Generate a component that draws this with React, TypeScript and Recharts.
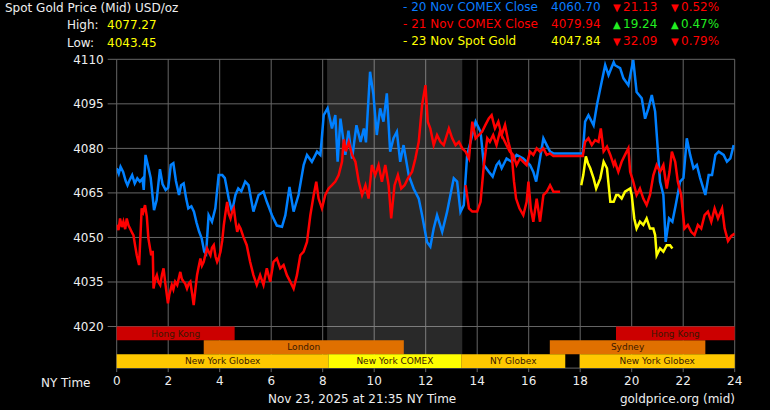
import React from "react";
import { LineChart, Line, XAxis, YAxis, CartesianGrid, ReferenceArea } from "recharts";

// ── data (hour of NY day, price USD/oz) ──────────────────────────────────
const hourTicks = [0, 2, 4, 6, 8, 10, 12, 14, 16, 18, 20, 22, 24];
const priceTicks = [4020, 4035, 4050, 4065, 4080, 4095, 4110];

// 20 Nov COMEX close (blue)
const nov20: number[][] = [
  [0, 4073.3], [0.08, 4071.5], [0.15, 4073.8], [0.25, 4072.1], [0.35, 4069.0], [0.42, 4067.6], [0.5, 4069.3],
  [0.6, 4071.0], [0.7, 4068.2], [0.8, 4069.9], [0.9, 4068.8], [1.0, 4069.8], [1.05, 4066.0], [1.12, 4077.8],
  [1.22, 4074.0], [1.32, 4070.0], [1.45, 4059.2], [1.55, 4062.5], [1.68, 4073.0], [1.78, 4068.0], [1.9, 4066.0],
  [2.0, 4066.8], [2.1, 4074.4], [2.2, 4075.0], [2.3, 4069.0], [2.42, 4064.3], [2.5, 4067.6], [2.6, 4068.2],
  [2.7, 4063.0], [2.78, 4059.8], [2.9, 4060.5], [3.0, 4058.7], [3.1, 4055.0], [3.2, 4052.0], [3.3, 4049.7],
  [3.4, 4045.2], [3.47, 4044.5], [3.57, 4057.5], [3.7, 4055.3], [3.83, 4059.8], [3.96, 4071.0], [4.1, 4071.0],
  [4.2, 4070.0], [4.35, 4063.1], [4.48, 4058.7], [4.61, 4064.3], [4.72, 4066.5], [4.84, 4065.5], [4.99, 4068.8],
  [5.12, 4067.6], [5.31, 4058.7], [5.51, 4064.3], [5.7, 4065.4], [5.83, 4062.0], [6.03, 4057.5], [6.22, 4054.0],
  [6.42, 4053.6], [6.55, 4057.5], [6.71, 4067.0], [6.87, 4058.7], [7.06, 4064.3], [7.26, 4074.4], [7.39, 4077.8],
  [7.58, 4075.5], [7.78, 4078.9], [7.91, 4077.8], [8.04, 4091.2], [8.19, 4093.5], [8.36, 4086.7], [8.49, 4091.2],
  [8.58, 4075.5], [8.69, 4090.0], [8.88, 4077.8], [9.0, 4086.0], [9.14, 4076.6], [9.31, 4087.8], [9.47, 4082.2],
  [9.6, 4086.7], [9.68, 4082.0], [9.84, 4105.8], [9.97, 4098.0], [10.1, 4084.5], [10.23, 4093.5], [10.36, 4089.0],
  [10.49, 4098.5], [10.62, 4078.9], [10.75, 4083.4], [10.88, 4085.6], [11.01, 4075.5], [11.14, 4081.1],
  [11.34, 4071.0], [11.53, 4066.5], [11.73, 4063.1], [11.86, 4057.5], [12.05, 4048.5], [12.18, 4046.9],
  [12.31, 4053.0], [12.44, 4057.5], [12.64, 4051.9], [12.83, 4058.6], [12.96, 4064.3], [13.09, 4069.9],
  [13.22, 4068.8], [13.35, 4058.6], [13.48, 4060.9], [13.61, 4077.8], [13.81, 4084.5], [13.94, 4089.0],
  [14.13, 4085.6], [14.26, 4074.4], [14.45, 4072.1], [14.6, 4070.5], [14.75, 4074.4], [14.85, 4075.5],
  [14.95, 4073.3], [15.14, 4076.6], [15.34, 4075.5], [15.53, 4077.8], [15.79, 4076.6], [16.05, 4074.4],
  [16.18, 4072.1], [16.29, 4068.8], [16.44, 4076.6], [16.57, 4083.4], [16.7, 4081.1], [16.83, 4078.9],
  [16.96, 4078.3], [18.1, 4078.3], [18.19, 4089.0], [18.32, 4091.2], [18.52, 4087.8], [18.65, 4094.6],
  [18.78, 4100.2], [18.97, 4108.1], [19.1, 4104.7], [19.3, 4109.0], [19.35, 4108.0], [19.55, 4107.0],
  [19.68, 4103.6], [19.87, 4101.3], [20.06, 4109.8], [20.19, 4099.0], [20.39, 4096.9], [20.52, 4090.0],
  [20.65, 4093.5], [20.78, 4098.0], [20.91, 4092.4], [21.01, 4080.0], [21.1, 4068.8], [21.23, 4064.3],
  [21.32, 4048.5], [21.45, 4056.4], [21.58, 4055.3], [21.71, 4060.9], [21.88, 4068.8], [22.01, 4070.0],
  [22.14, 4083.4], [22.27, 4077.8], [22.4, 4073.3], [22.53, 4074.4], [22.66, 4070.0], [22.86, 4064.3],
  [22.99, 4071.0], [23.12, 4071.0], [23.25, 4077.8], [23.38, 4078.9], [23.57, 4077.8], [23.7, 4075.5],
  [23.83, 4076.6], [23.96, 4081.1],
];

// 21 Nov COMEX close (red), first trace 0h -> 17.2h
const nov21a: number[][] = [
  [0, 4054.2], [0.07, 4052.5], [0.13, 4056.4], [0.2, 4053.5], [0.26, 4055.3], [0.33, 4052.8], [0.39, 4056.4],
  [0.46, 4054.0], [0.52, 4053.0], [0.6, 4051.5], [0.65, 4050.8], [0.72, 4047.0], [0.78, 4044.0], [0.87, 4040.7],
  [0.93, 4052.0], [0.97, 4059.8], [1.03, 4058.5], [1.1, 4060.9], [1.17, 4057.0], [1.23, 4049.7], [1.34, 4044.0],
  [1.4, 4045.5], [1.43, 4032.8], [1.5, 4036.0], [1.56, 4037.3], [1.62, 4035.0], [1.69, 4034.0], [1.76, 4037.5],
  [1.82, 4039.6], [1.88, 4035.1], [1.99, 4027.8], [2.05, 4031.0], [2.14, 4034.0], [2.2, 4032.5], [2.27, 4035.1],
  [2.35, 4034.0], [2.47, 4038.4], [2.53, 4036.0], [2.6, 4035.1], [2.66, 4034.5], [2.73, 4032.8], [2.8, 4034.5],
  [2.86, 4035.1], [2.93, 4031.0], [2.99, 4027.2], [3.05, 4032.0], [3.12, 4037.3], [3.18, 4040.0], [3.25, 4042.9],
  [3.31, 4040.5], [3.38, 4041.8], [3.44, 4044.0], [3.51, 4046.3], [3.58, 4045.0], [3.64, 4044.0], [3.7, 4046.5],
  [3.77, 4047.4], [3.84, 4043.5], [3.9, 4041.8], [3.96, 4043.0], [4.03, 4045.2], [4.1, 4049.0], [4.16, 4054.2],
  [4.22, 4058.0], [4.29, 4062.0], [4.35, 4058.0], [4.42, 4056.4], [4.48, 4058.5], [4.55, 4059.8], [4.62, 4055.0],
  [4.68, 4051.9], [4.75, 4054.0], [4.81, 4053.0], [4.92, 4050.2], [5.05, 4047.4], [5.18, 4041.8], [5.31, 4037.3],
  [5.44, 4034.0], [5.57, 4037.3], [5.7, 4034.0], [5.83, 4039.6], [5.96, 4035.1], [6.09, 4041.8], [6.22, 4042.9],
  [6.35, 4039.6], [6.48, 4040.7], [6.61, 4037.3], [6.74, 4035.1], [6.87, 4032.8], [7.0, 4037.3], [7.13, 4044.0],
  [7.26, 4045.2], [7.39, 4048.5], [7.52, 4057.5], [7.65, 4064.3], [7.75, 4068.8], [7.84, 4063.1], [7.97, 4059.8],
  [8.1, 4064.3], [8.23, 4066.5], [8.36, 4067.6], [8.49, 4068.8], [8.62, 4071.0], [8.75, 4075.5], [8.82, 4083.0],
  [8.9, 4079.0], [9.01, 4082.2], [9.14, 4077.8], [9.27, 4075.5], [9.4, 4068.8], [9.53, 4064.3], [9.66, 4067.6],
  [9.78, 4063.1], [9.91, 4074.4], [10.04, 4071.0], [10.17, 4074.4], [10.3, 4068.8], [10.43, 4074.4],
  [10.56, 4067.6], [10.66, 4056.4], [10.79, 4067.6], [10.92, 4071.0], [11.05, 4066.5], [11.18, 4067.6],
  [11.31, 4069.9], [11.47, 4072.1], [11.6, 4076.6], [11.73, 4082.2], [11.86, 4094.6], [11.99, 4101.3],
  [12.08, 4089.0], [12.18, 4086.7], [12.31, 4081.1], [12.44, 4084.5], [12.57, 4082.2], [12.7, 4081.1],
  [12.9, 4086.7], [13.03, 4083.4], [13.16, 4081.1], [13.29, 4082.2], [13.42, 4080.0], [13.55, 4078.9],
  [13.68, 4076.6], [13.81, 4089.0], [13.94, 4083.4], [14.06, 4084.5], [14.19, 4085.6], [14.32, 4087.9],
  [14.45, 4090.1], [14.56, 4091.2], [14.69, 4086.7], [14.82, 4089.0], [14.95, 4084.5], [15.08, 4087.9],
  [15.21, 4082.2], [15.34, 4077.8], [15.43, 4068.8], [15.51, 4063.1], [15.64, 4059.8], [15.79, 4057.5],
  [15.92, 4062.0], [15.99, 4068.8], [16.08, 4059.8], [16.18, 4055.3], [16.31, 4063.1], [16.44, 4055.3],
  [16.57, 4064.3], [16.7, 4065.4], [16.83, 4067.6], [16.96, 4065.4], [17.22, 4065.4],
];

// 21 Nov COMEX close (red), second trace 13.5h -> 24h
const nov21b: number[][] = [
  [13.55, 4067.6], [13.68, 4059.8], [13.81, 4058.7], [14.0, 4058.7], [14.13, 4062.0], [14.26, 4074.4],
  [14.39, 4083.4], [14.49, 4082.2], [14.62, 4084.5], [14.75, 4081.1], [14.88, 4085.6], [15.01, 4083.4],
  [15.14, 4081.1], [15.27, 4078.9], [15.4, 4077.8], [15.53, 4074.4], [15.66, 4076.6], [15.79, 4075.5],
  [15.92, 4074.4], [16.05, 4078.9], [16.18, 4077.8], [16.31, 4080.0], [16.44, 4078.9], [16.57, 4080.0],
  [16.7, 4077.8], [16.83, 4078.3], [16.96, 4077.4], [18.1, 4077.4], [18.19, 4082.2], [18.32, 4083.4],
  [18.45, 4081.1], [18.58, 4082.8], [18.71, 4082.2], [18.8, 4086.7], [18.91, 4079.0], [19.04, 4080.6],
  [19.17, 4077.8], [19.3, 4074.4], [19.35, 4075.5], [19.48, 4072.1], [19.61, 4075.5], [19.74, 4077.8],
  [19.87, 4080.0], [19.94, 4072.1], [20.06, 4068.8], [20.19, 4064.3], [20.32, 4066.5], [20.45, 4063.1],
  [20.58, 4060.9], [20.71, 4064.3], [20.84, 4070.9], [20.97, 4074.4], [21.1, 4072.1], [21.23, 4074.4],
  [21.36, 4066.5], [21.47, 4072.1], [21.56, 4078.9], [21.69, 4075.5], [21.79, 4068.8], [21.92, 4064.3],
  [22.05, 4053.0], [22.18, 4054.2], [22.31, 4051.9], [22.44, 4050.8], [22.57, 4054.2], [22.7, 4053.0],
  [22.83, 4057.5], [22.96, 4058.7], [23.09, 4055.3], [23.22, 4059.8], [23.35, 4056.4], [23.51, 4059.8],
  [23.61, 4053.0], [23.74, 4048.8], [23.87, 4050.5], [24, 4051.3],
];

// 23 Nov spot gold (yellow)
const nov23: number[][] = [
  [18.04, 4067.6], [18.12, 4071.0], [18.22, 4077.3], [18.3, 4075.0], [18.39, 4073.3], [18.52, 4069.9],
  [18.62, 4066.5], [18.78, 4069.9], [18.91, 4075.5], [19.04, 4073.3], [19.17, 4062.0], [19.3, 4062.0],
  [19.4, 4064.3], [19.48, 4064.3], [19.61, 4063.1], [19.74, 4065.4], [19.94, 4066.5], [20.0, 4064.3],
  [20.1, 4056.4], [20.19, 4053.0], [20.32, 4055.3], [20.45, 4054.2], [20.58, 4056.4], [20.71, 4053.0],
  [20.84, 4053.0], [20.91, 4050.8], [20.97, 4044.0], [21.1, 4046.3], [21.23, 4045.2], [21.36, 4047.4],
  [21.49, 4047.4], [21.58, 4046.3],
];

// market sessions (hours), row 0 = top
const sessionNames = ["Hong Kong", "London", "Sydney", "New York Globex", "New York COMEX", "NY Globex", "New York Globex", "Hong Kong"];
const sessionRow = [0, 1, 1, 2, 2, 2, 2, 0];
const sessionFrom = [0, 3.38, 16.82, 0, 8.23, 13.38, 17.98, 19.39];
const sessionTo = [4.58, 11.15, 22.86, 8.23, 13.38, 17.42, 24, 24];
const shadeFrom = 8.17;
const shadeTo = 13.42;

const toPts = (rows: number[][]) => rows.map(([h, p]) => ({ h, p }));

const sessionColor: Record<string, string> = {
  "Hong Kong": "#cc0000",
  London: "#e07000",
  Sydney: "#e07000",
  "New York Globex": "#ffc800",
  "NY Globex": "#ffc800",
  "New York COMEX": "#ffff00",
};

const FONT = "DejaVu Sans";
const BOTTOM = 4006;
const ROW = 4.65;

function Header() {
  const t = { fontFamily: FONT, fontSize: 12, dominantBaseline: "central" as const };
  const rows = [
    { y: 7, name: "- 20 Nov COMEX Close", val: "4060.70", c: "#0a7cff", up: false, chg: "21.13", pct: "0.52%" },
    { y: 24, name: "- 21 Nov COMEX Close", val: "4079.94", c: "#ff0000", up: true, chg: "19.24", pct: "0.47%" },
    { y: 41, name: "- 23 Nov Spot Gold", val: "4047.84", c: "#ffff00", up: false, chg: "32.09", pct: "0.79%" },
  ];
  return (
    <svg width={770} height={410} style={{ position: "absolute", left: 0, top: 0, pointerEvents: "none" }}>
      <text x={5} y={8} fill="#eeeeee" {...t}>Spot Gold Price (Mid) USD/oz</text>
      <text x={67} y={25} fill="#eeeeee" {...t}>High:</text>
      <text x={107} y={25} fill="#ffff00" {...t}>4077.27</text>
      <text x={67} y={43} fill="#eeeeee" {...t}>Low:</text>
      <text x={107} y={43} fill="#ffff00" {...t}>4043.45</text>
      {rows.map((r) => {
        const cc = r.up ? "#22ee22" : "#ff0000";
        return (
          <g key={r.name}>
            <text x={403} y={r.y} fill={r.c} {...t}>{r.name}</text>
            <text x={551} y={r.y} fill={r.c} {...t}>{r.val}</text>
            <text x={613} y={r.y} fill={cc} {...t} fontSize={10}>{r.up ? "▲" : "▼"}</text>
            <text x={623} y={r.y} fill={cc} {...t}>{r.chg}</text>
            <text x={671} y={r.y} fill={cc} {...t} fontSize={10}>{r.up ? "▲" : "▼"}</text>
            <text x={681} y={r.y} fill={cc} {...t}>{r.pct}</text>
          </g>
        );
      })}
      <text x={41} y={383} fill="#eeeeee" {...t}>NY Time</text>
      <text x={268} y={399} fill="#eeeeee" {...t}>Nov 23, 2025 at 21:35 NY Time</text>
      <text x={735} y={399} fill="#eeeeee" textAnchor="end" {...t}>goldprice.org (mid)</text>
    </svg>
  );
}

export default function App() {
  const tick = { fill: "#eeeeee", fontSize: 12, fontFamily: FONT };
  return (
    <div style={{ position: "absolute", left: 0, top: 0, width: 770, height: 410, background: "#000", overflow: "hidden" }}>
      <LineChart width={770} height={410} margin={{ top: 59.3, right: 35.3, bottom: 17.9, left: 0 }}>
        <CartesianGrid stroke="#666" strokeWidth={1} />
        <XAxis
          dataKey="h" type="number" domain={[0, 24]} ticks={hourTicks} allowDataOverflow
          height={24} axisLine={false} tickLine={{ stroke: "#666" }} tickSize={4} tickMargin={4} tick={tick}
          interval={0}
        />
        <YAxis
          type="number" domain={[BOTTOM, 4110]} ticks={priceTicks} allowDataOverflow
          width={116.7} axisLine={false} tickLine={{ stroke: "#666" }} tickSize={9} tickMargin={4} tick={tick}
          interval={0}
        />
        <ReferenceArea x1={shadeFrom} x2={shadeTo} y1={BOTTOM} y2={4110} fill="#ffffff" fillOpacity={0.16} stroke="none" />
        {sessionNames.map((name, i) => {
          const top = 4020 - sessionRow[i] * ROW;
          return (
            <ReferenceArea
              key={i}
              x1={sessionFrom[i]} x2={sessionTo[i]} y1={top - ROW} y2={top}
              fill={sessionColor[name]} fillOpacity={1} stroke="none"
              label={{ value: name, position: "center", fill: "#3a1800", fontSize: 9, fontFamily: FONT }}
            />
          );
        })}
        <Line data={toPts(nov20)} dataKey="p" stroke="#0080ff" strokeWidth={2.5} dot={false} activeDot={false} isAnimationActive={false} />
        <Line data={toPts(nov21a)} dataKey="p" stroke="#ff0000" strokeWidth={2.5} dot={false} activeDot={false} isAnimationActive={false} />
        <Line data={toPts(nov21b)} dataKey="p" stroke="#ff0000" strokeWidth={2.5} dot={false} activeDot={false} isAnimationActive={false} />
        <Line data={toPts(nov23)} dataKey="p" stroke="#ffff00" strokeWidth={2.5} dot={false} activeDot={false} isAnimationActive={false} />
      </LineChart>
      <Header />
    </div>
  );
}
